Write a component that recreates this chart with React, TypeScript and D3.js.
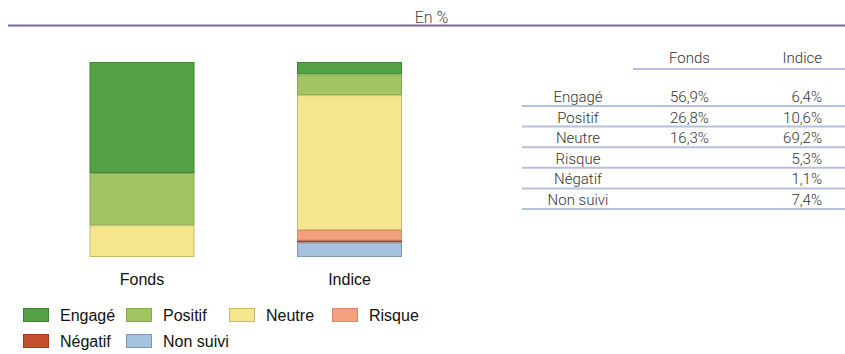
import React from "react";
import * as d3 from "d3";

const categories = ["Engagé", "Positif", "Neutre", "Risque", "Négatif", "Non suivi"];
const columns = ["Fonds", "Indice"];
const fondsValues = [56.9, 26.8, 16.3, 0, 0, 0];
const indiceValues = [6.4, 10.6, 69.2, 5.3, 1.1, 7.4];
const fondsLabels = ["56,9%", "26,8%", "16,3%", "", "", ""];
const indiceLabels = ["6,4%", "10,6%", "69,2%", "5,3%", "1,1%", "7,4%"];

const fills = ["#53a045", "#a2c563", "#f5e68e", "#f2a07e", "#c44e2f", "#a5c3e0"];
const strokes = ["#3f8233", "#86a84f", "#c9b96c", "#d88a6a", "#a33d22", "#7b98b5"];

const W = 845;
const H = 354;

const App = () => {
  // stack values from top (Engagé) downwards
  const y = d3.scaleLinear().domain([0, 100]).range([62, 257]);
  const x = d3.scalePoint<string>().domain(columns).range([142, 349.5]);
  const barW = 105;

  const series = [fondsValues, indiceValues];
  const bars: any[] = [];
  series.forEach((vals, si) => {
    let acc = 0;
    vals.forEach((v, i) => {
      if (v > 0) {
        bars.push({ col: columns[si], i, y0: acc, y1: acc + v });
      }
      acc += v;
    });
  });

  const rowY = d3.scaleLinear().domain([0, 1]).range([97, 117.6]);
  const legendX = (k: number) => 23 + (k % 4) * 103;
  const legendY = (k: number) => 308 + Math.floor(k / 4) * 26;

  const tableFont = "Roboto, 'Noto Sans', sans-serif";
  const arial = "'Liberation Sans', Arial, sans-serif";

  return (
    <svg
      width={W}
      height={H}
      style={{ position: "absolute", left: 0, top: 0, background: "#fff" }}
    >
      {/* title */}
      <text
        x={431.5}
        y={22.5}
        textAnchor="middle"
        fontFamily={tableFont}
        fontWeight={300}
        fontSize={16}
        fill="#444"
      >
        En %
      </text>
      <line x1={8} x2={W} y1={25.5} y2={25.5} stroke="#8064a2" strokeWidth={2} />

      {/* stacked bars */}
      {bars.map((b, k) => (
        <rect
          key={k}
          x={(x(b.col) as number) - barW / 2 + 0.5}
          y={y(b.y0) + 0.5}
          width={barW - 1}
          height={Math.max(y(b.y1) - y(b.y0) - 1, 0.5)}
          fill={fills[b.i]}
          stroke={strokes[b.i]}
          strokeWidth={1}
        />
      ))}
      {columns.map((c) => (
        <text
          key={c}
          x={x(c)}
          y={285}
          textAnchor="middle"
          fontFamily={arial}
          fontSize={16}
          fill="#111"
        >
          {c}
        </text>
      ))}

      {/* table */}
      <text x={689.5} y={63} textAnchor="middle" fontFamily={tableFont} fontWeight={300} fontSize={15} fill="#333">
        {columns[0]}
      </text>
      <text x={822} y={63} textAnchor="end" fontFamily={tableFont} fontWeight={300} fontSize={15} fill="#333">
        {columns[1]}
      </text>
      <line x1={633} x2={W} y1={69} y2={69} stroke="#b4c0dc" strokeWidth={2} />
      {categories.map((c, i) => (
        <g key={c}>
          <text x={578} y={rowY(i) + 5} textAnchor="middle" fontFamily={tableFont} fontWeight={300} fontSize={15} fill="#333">
            {c}
          </text>
          <text x={689.5} y={rowY(i) + 5} textAnchor="middle" fontFamily={tableFont} fontWeight={300} fontSize={15} fill="#333">
            {fondsLabels[i]}
          </text>
          <text x={822} y={rowY(i) + 5} textAnchor="end" fontFamily={tableFont} fontWeight={300} fontSize={15} fill="#333">
            {indiceLabels[i]}
          </text>
          <line x1={522} x2={W} y1={rowY(i) + 9} y2={rowY(i) + 9} stroke="#b4c0dc" strokeWidth={2} />
        </g>
      ))}

      {/* legend */}
      {categories.map((c, k) => (
        <g key={c} transform={`translate(${legendX(k)},${legendY(k)})`}>
          <rect x={0.5} y={0.5} width={25} height={13} fill={fills[k]} stroke={strokes[k]} />
          <text x={37} y={13} fontFamily={arial} fontSize={16} fill="#111">
            {c}
          </text>
        </g>
      ))}
    </svg>
  );
};

export default App;
